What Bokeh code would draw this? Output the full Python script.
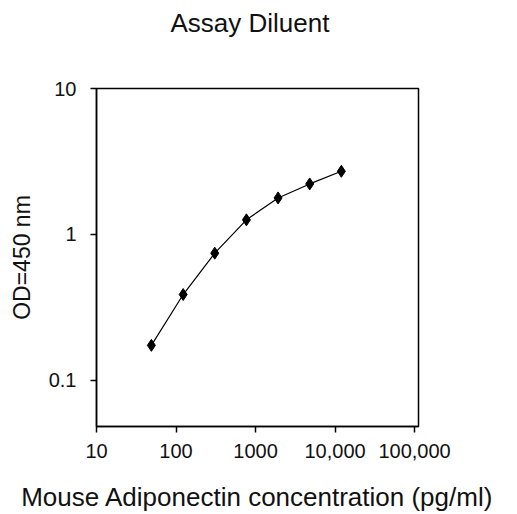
from bokeh.plotting import figure
from bokeh.models import FixedTicker, Range1d, Title
from bokeh.embed import file_html
from bokeh.resources import INLINE

# data
concentration = [49, 123, 307, 768, 1920, 4800, 12000]
od450 = [0.174, 0.388, 0.745, 1.26, 1.78, 2.22, 2.71]
x_ticks = [10, 100, 1000, 10000, 100000]
x_tick_labels = ["10", "100", "1000", "10,000", "100,000"]
y_ticks = [0.1, 1, 10]
y_tick_labels = ["0.1", "1", "10"]
title_text = "Assay Diluent"

FONT = "Liberation Sans"

p = figure(width=517, height=514, x_axis_type="log", y_axis_type="log",
           x_range=Range1d(10, 112000), y_range=Range1d(0.0484, 10),
           output_backend="svg", toolbar_location=None,
           title=title_text,
           min_border_left=96, min_border_right=99, min_border_top=88, min_border_bottom=88)

# spacer between frame and title
p.add_layout(Title(text=" ", text_font_size="2px", standoff=42), "above")

p.title.text_font = FONT
p.title.text_font_size = "26px"
p.title.text_font_style = "normal"
p.title.align = "left"
p.title.offset = 74
p.title.standoff = 10
p.title.text_color = "#111111"

p.grid.visible = False
p.outline_line_color = "black"
p.outline_line_width = 1.5
p.background_fill_color = "white"
p.border_fill_color = "white"

for ax in (p.xaxis[0], p.yaxis[0]):
    ax.axis_line_color = "black"
    ax.axis_line_width = 1.5
    ax.major_tick_line_color = "black"
    ax.major_tick_line_width = 1.5
    ax.major_tick_out = 6
    ax.major_tick_in = 0
    ax.minor_tick_line_color = None
    ax.major_label_text_font = FONT
    ax.major_label_text_font_size = "20px"
    ax.major_label_text_color = "#111111"
    ax.axis_label_text_font = FONT
    ax.axis_label_text_font_style = "normal"
    ax.axis_label_text_color = "#111111"

p.xaxis[0].ticker = FixedTicker(ticks=x_ticks)
p.xaxis[0].major_label_overrides = dict(zip(x_ticks, x_tick_labels))
p.xaxis[0].axis_label = "Mouse Adiponectin concentration (pg/ml)"
p.xaxis[0].axis_label_text_font_size = "26px"
p.xaxis[0].major_label_standoff = 11
p.xaxis[0].axis_label_standoff = 21

p.yaxis[0].ticker = FixedTicker(ticks=y_ticks)
p.yaxis[0].major_label_overrides = dict(zip(y_ticks, y_tick_labels))
p.yaxis[0].axis_label = "OD=450 nm"
p.yaxis[0].axis_label_text_font_size = "23px"
p.yaxis[0].major_label_standoff = 14
p.yaxis[0].axis_label_standoff = 11

p.line(concentration, od450, line_color="black", line_width=1.2)
p.scatter(concentration, od450, marker="diamond", size=12, fill_color="black", line_color="black")

open("out.html", "w").write(file_html(p, INLINE))
